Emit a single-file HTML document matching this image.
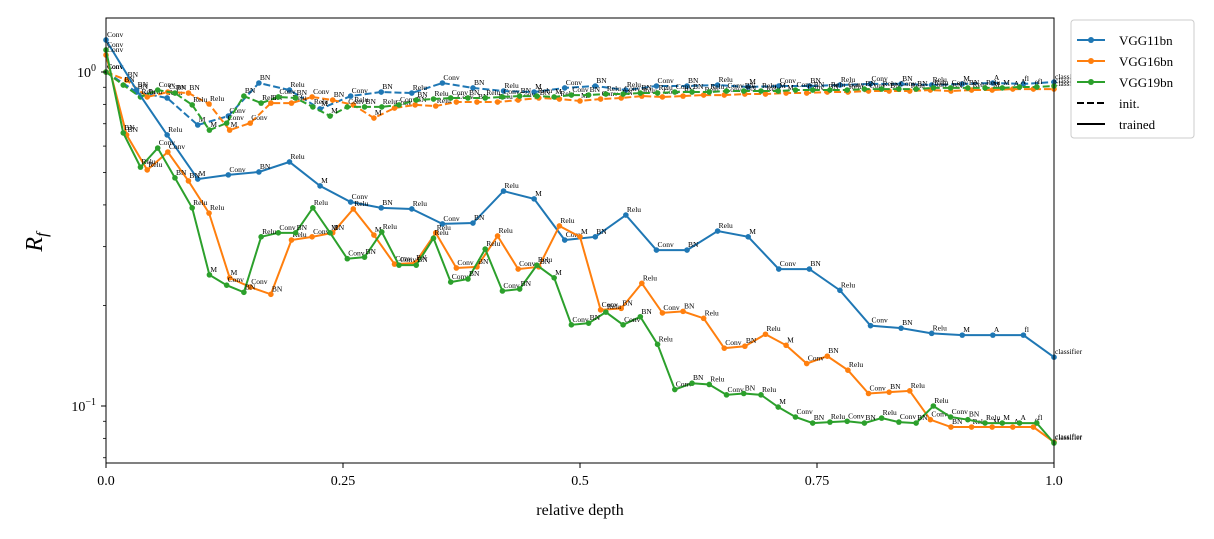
<!DOCTYPE html>
<html><head><meta charset="utf-8">
<style>
body{margin:0;background:#fff;}
svg{display:block;font-family:"Liberation Serif",serif;}
</style></head>
<body>
<svg id="chart" width="1214" height="539" viewBox="0 0 1214 539" xmlns="http://www.w3.org/2000/svg">
<rect x="0" y="0" width="1214" height="539" fill="#fff"/>
<g id="marks"></g>
<g id="axes"></g>
<text x="580" y="515" text-anchor="middle" font-size="16">relative depth</text>
<text x="42" y="242" text-anchor="middle" font-size="24" font-style="italic" transform="rotate(-90 42 242)">R<tspan font-size="16" dy="5">f</tspan></text>
<g>
<rect x="1071" y="20" width="123" height="118" rx="3" fill="#fff" stroke="#ccc"/>
<line x1="1077" y1="40" x2="1105" y2="40" stroke="#1f77b4" stroke-width="2"/><circle cx="1091" cy="40" r="3" fill="#1f77b4"/>
<text x="1119" y="45" font-size="13">VGG11bn</text>
<line x1="1077" y1="61" x2="1105" y2="61" stroke="#ff7f0e" stroke-width="2"/><circle cx="1091" cy="61" r="3" fill="#ff7f0e"/>
<text x="1119" y="66" font-size="13">VGG16bn</text>
<line x1="1077" y1="82" x2="1105" y2="82" stroke="#2ca02c" stroke-width="2"/><circle cx="1091" cy="82" r="3" fill="#2ca02c"/>
<text x="1119" y="87" font-size="13">VGG19bn</text>
<line x1="1077" y1="103" x2="1105" y2="103" stroke="#000" stroke-width="2" stroke-dasharray="7,3"/>
<text x="1119" y="108" font-size="13">init.</text>
<line x1="1077" y1="124" x2="1105" y2="124" stroke="#000" stroke-width="2"/>
<text x="1119" y="129" font-size="13">trained</text>
</g>
</svg>
<script>
const vgg11Layers=["Conv","BN","Relu","M","Conv","BN","Relu","M","Conv","BN","Relu","Conv","BN","Relu","M","Conv","BN","Relu","Conv","BN","Relu","M","Conv","BN","Relu","Conv","BN","Relu","M","A","fl","classifier"];
const vgg16Layers=["Conv","BN","Relu","Conv","BN","Relu","M","Conv","BN","Relu","Conv","BN","Relu","M","Conv","BN","Relu","Conv","BN","Relu","Conv","BN","Relu","M","Conv","BN","Relu","Conv","BN","Relu","Conv","BN","Relu","M","Conv","BN","Relu","Conv","BN","Relu","Conv","BN","Relu","M","A","fl","classifier"];
const vgg19Layers=["Conv","BN","Relu","Conv","BN","Relu","M","Conv","BN","Relu","Conv","BN","Relu","M","Conv","BN","Relu","Conv","BN","Relu","Conv","BN","Relu","Conv","BN","Relu","M","Conv","BN","Relu","Conv","BN","Relu","Conv","BN","Relu","Conv","BN","Relu","M","Conv","BN","Relu","Conv","BN","Relu","Conv","BN","Relu","Conv","BN","Relu","M","A","fl","classifier"];
const vgg11Trained=[1.247,0.883,0.648,0.478,0.492,0.502,0.538,0.456,0.408,0.392,0.389,0.351,0.353,0.440,0.417,0.314,0.321,0.373,0.293,0.293,0.334,0.321,0.257,0.257,0.222,0.174,0.171,0.165,0.163,0.163,0.163,0.140];
const vgg16Trained=[1.124,0.648,0.509,0.576,0.472,0.378,0.242,0.227,0.216,0.314,0.321,0.330,0.389,0.325,0.266,0.268,0.330,0.259,0.261,0.323,0.257,0.261,0.346,0.321,0.194,0.196,0.233,0.190,0.192,0.183,0.149,0.151,0.164,0.152,0.134,0.141,0.128,0.109,0.110,0.111,0.091,0.0865,0.0865,0.0865,0.0865,0.0865,0.078];
const vgg19Trained=[1.164,0.657,0.519,0.592,0.482,0.392,0.247,0.230,0.219,0.321,0.330,0.330,0.392,0.330,0.276,0.279,0.332,0.264,0.264,0.318,0.235,0.240,0.295,0.221,0.224,0.264,0.242,0.175,0.177,0.191,0.175,0.185,0.153,0.112,0.117,0.116,0.108,0.109,0.108,0.0993,0.0927,0.0889,0.0895,0.090,0.0889,0.092,0.0895,0.0889,0.100,0.0927,0.091,0.0889,0.0889,0.0889,0.0889,0.0775];
const vgg11Init=[1.0,0.871,0.836,0.694,0.738,0.927,0.883,0.775,0.847,0.871,0.865,0.927,0.896,0.877,0.871,0.896,0.908,0.883,0.908,0.908,0.914,0.902,0.908,0.908,0.914,0.921,0.921,0.914,0.921,0.927,0.921,0.933];
const vgg16Init=[1.0,0.946,0.842,0.871,0.865,0.802,0.670,0.703,0.807,0.807,0.842,0.824,0.797,0.728,0.780,0.797,0.791,0.813,0.813,0.813,0.824,0.836,0.830,0.819,0.830,0.836,0.847,0.842,0.847,0.853,0.853,0.859,0.859,0.865,0.865,0.871,0.871,0.877,0.877,0.877,0.883,0.877,0.883,0.883,0.889,0.889,0.889];
const vgg19Init=[1.0,0.914,0.842,0.883,0.865,0.797,0.670,0.703,0.847,0.807,0.842,0.836,0.786,0.738,0.786,0.786,0.786,0.797,0.824,0.830,0.836,0.836,0.836,0.842,0.847,0.847,0.842,0.853,0.853,0.859,0.859,0.865,0.865,0.871,0.871,0.871,0.877,0.877,0.877,0.877,0.883,0.883,0.883,0.883,0.889,0.889,0.889,0.889,0.896,0.896,0.896,0.896,0.896,0.902,0.902,0.908];
const xTicks=[0,0.25,0.5,0.75,1.0];
const xTickLabels=["0.0","0.25","0.5","0.75","1.0"];

const NS="http://www.w3.org/2000/svg";
const X0=106,X1=1054,Y0=18,Y1=463;
function xs(d){return X0+(X1-X0)*d;}
function ys(v){return 72-334*Math.log10(v);}
const marks=document.getElementById('marks');
const axes=document.getElementById('axes');
function mk(tag,attrs,parent){const e=document.createElementNS(NS,tag);for(const k in attrs)e.setAttribute(k,attrs[k]);parent.appendChild(e);return e;}

const series=[
 {name:"vgg11-init",vals:vgg11Init,labels:vgg11Layers,color:"#1f77b4",dash:"7,3"},
 {name:"vgg16-init",vals:vgg16Init,labels:vgg16Layers,color:"#ff7f0e",dash:"7,3"},
 {name:"vgg19-init",vals:vgg19Init,labels:vgg19Layers,color:"#2ca02c",dash:"7,3"},
 {name:"vgg11-trained",vals:vgg11Trained,labels:vgg11Layers,color:"#1f77b4",dash:""},
 {name:"vgg16-trained",vals:vgg16Trained,labels:vgg16Layers,color:"#ff7f0e",dash:""},
 {name:"vgg19-trained",vals:vgg19Trained,labels:vgg19Layers,color:"#2ca02c",dash:""}
];
series.forEach(s=>{
  const g=mk('g',{},marks);
  
  
  const n=s.vals.length;
  const pts=s.vals.map((v,i)=>[xs(i/(n-1)),ys(v)]);
  const pl=mk('polyline',{points:pts.map(p=>p.join(',')).join(' '),fill:'none',stroke:s.color,'stroke-width':2,'stroke-dasharray':s.dash},g);
  
  
  pts.forEach((p,i)=>{
    const c=mk('circle',{cx:p[0],cy:p[1],r:2.8,fill:s.color},g);
    
    
    const t=mk('text',{x:p[0]+1,y:p[1]-3,'font-size':7.5,fill:'#000'},g);
    t.textContent=s.labels[i];
    
    
  });
});
const fr=mk('rect',{x:X0,y:Y0,width:X1-X0,height:Y1-Y0,fill:'none',stroke:'#000','stroke-width':1},axes);


xTicks.forEach((d,i)=>{
  const x=xs(d);
  mk('line',{x1:x,y1:Y1,x2:x,y2:Y1+5,stroke:'#000'},axes);
  const t=mk('text',{x:x,y:Y1+22,'text-anchor':'middle','font-size':14},axes);
  t.textContent=xTickLabels[i];
  
  
});
[1,0.1].forEach((v,i)=>{
  const y=ys(v);
  mk('line',{x1:X0-5,y1:y,x2:X0,y2:y,stroke:'#000'},axes);
  const t=mk('text',{x:X0-10,y:y+5,'text-anchor':'end','font-size':14},axes);
  t.innerHTML=i===0?'10<tspan font-size="10" dy="-6">0</tspan>':'10<tspan font-size="10" dy="-6">−1</tspan>';
  
  
});
[0.07,0.08,0.09,0.2,0.3,0.4,0.5,0.6,0.7,0.8,0.9].forEach(v=>{
  const y=ys(v);
  mk('line',{x1:X0-3,y1:y,x2:X0,y2:y,stroke:'#000','stroke-width':0.8},axes);
});
</script>
</body></html>
